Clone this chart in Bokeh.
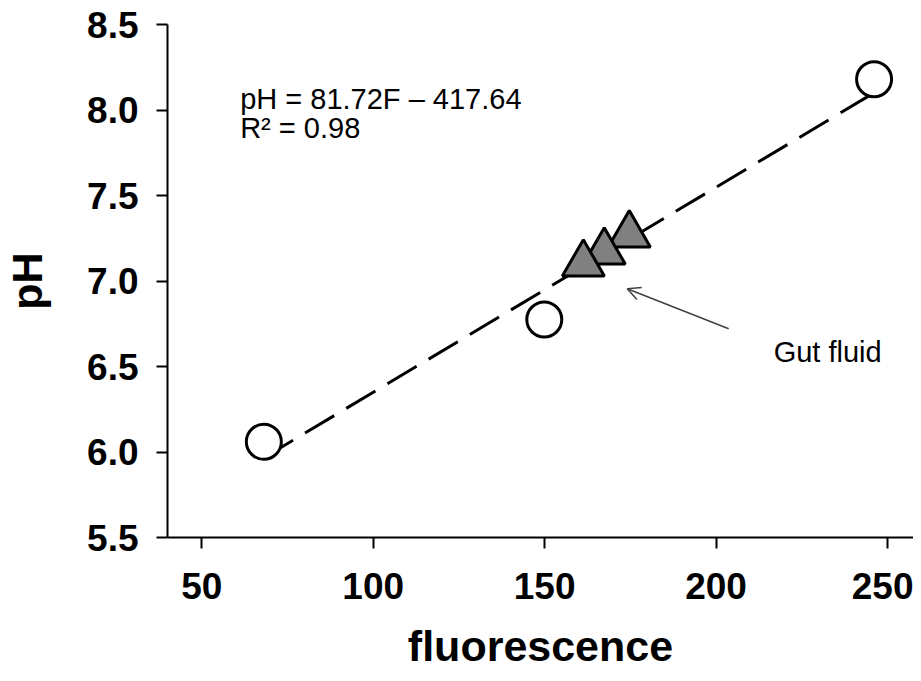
import numpy as np
from bokeh.plotting import figure
from bokeh.models import Range1d, FixedTicker, Label, Arrow, OpenHead
from bokeh.embed import file_html
from bokeh.resources import INLINE

# ---- data ----
std_fluor = [68.1, 149.9, 246.1]          # standards (open circles)
std_ph = [6.06, 6.775, 8.18]
gut_fluor = [174.7, 167.4, 161.3]         # gut fluid samples (grey triangles)
gut_ph = [7.27, 7.17, 7.10]
x_ticks = [50, 100, 150, 200, 250]
y_ticks = [5.5, 6.0, 6.5, 7.0, 7.5, 8.0, 8.5]
y_tick_labels = ["5.5", "6.0", "6.5", "7.0", "7.5", "8.0", "8.5"]
equation = "pH = 81.72F \u2013 417.64"
r2_text = "R\u00b2 = 0.98"
gut_label = "Gut fluid"

# linear trendline through the standards
slope, intercept = np.polyfit(std_fluor, std_ph, 1)
trend_x = [min(std_fluor), max(std_fluor)]
trend_y = [slope * v + intercept for v in trend_x]

FONT = "Liberation Sans"

p = figure(width=913, height=673, output_backend="svg", toolbar_location=None,
           x_range=Range1d(40, 257.6), y_range=Range1d(5.5, 8.5),
           min_border_left=166, min_border_top=24, min_border_bottom=136,
           min_border_right=0)
p.outline_line_color = None
p.grid.visible = False
p.background_fill_color = "white"
p.border_fill_color = "white"

# trendline
p.line(trend_x, trend_y, line_color="black", line_width=3, line_dash="34 14")

# markers
p.scatter(std_fluor, std_ph, marker="circle", size=35, fill_color="white",
          line_color="black", line_width=3)
p.scatter(gut_fluor, gut_ph, marker="triangle", size=42, fill_color="#808080",
          line_color="black", line_width=3)

# axes
for ax in (p.xaxis[0], p.yaxis[0]):
    ax.axis_line_color = "black"
    ax.axis_line_width = 2
    ax.major_tick_line_color = "black"
    ax.major_tick_line_width = 2
    ax.major_tick_out = 11
    ax.major_tick_in = 0
    ax.minor_tick_line_color = None
    ax.major_label_text_font = FONT
    ax.major_label_text_font_style = "bold"
    ax.major_label_text_font_size = "37px"
    ax.major_label_text_color = "black"
    ax.axis_label_text_font = FONT
    ax.axis_label_text_font_style = "bold"
    ax.axis_label_text_font_size = "43px"
    ax.axis_label_text_color = "black"

p.xaxis.ticker = FixedTicker(ticks=x_ticks)
p.yaxis.ticker = FixedTicker(ticks=y_ticks)
p.yaxis.major_label_overrides = {t: s for t, s in zip(y_ticks, y_tick_labels)}
p.xaxis.axis_label = "fluorescence"
p.yaxis.axis_label = "pH"
p.xaxis.major_label_standoff = 24
p.yaxis.major_label_standoff = 18
p.xaxis.axis_label_standoff = 20
p.yaxis.axis_label_standoff = 33

# annotations
p.add_layout(Label(x=61.2, y=8.063, text=equation, text_font=FONT,
                   text_font_size="29px", text_color="black",
                   text_baseline="alphabetic"))
p.add_layout(Label(x=61.2, y=7.893, text=r2_text, text_font=FONT,
                   text_font_size="29px", text_color="black",
                   text_baseline="alphabetic"))
p.add_layout(Label(x=216.8, y=6.583, text=gut_label, text_font=FONT,
                   text_font_size="29px", text_color="black",
                   text_baseline="alphabetic"))
p.add_layout(Arrow(end=OpenHead(size=13, line_color="#404040", line_width=1.5),
                   x_start=203.7, y_start=6.721, x_end=174.1, y_end=6.955,
                   line_color="#404040", line_width=1.5))

open("out.html", "w").write(file_html(p, INLINE))
